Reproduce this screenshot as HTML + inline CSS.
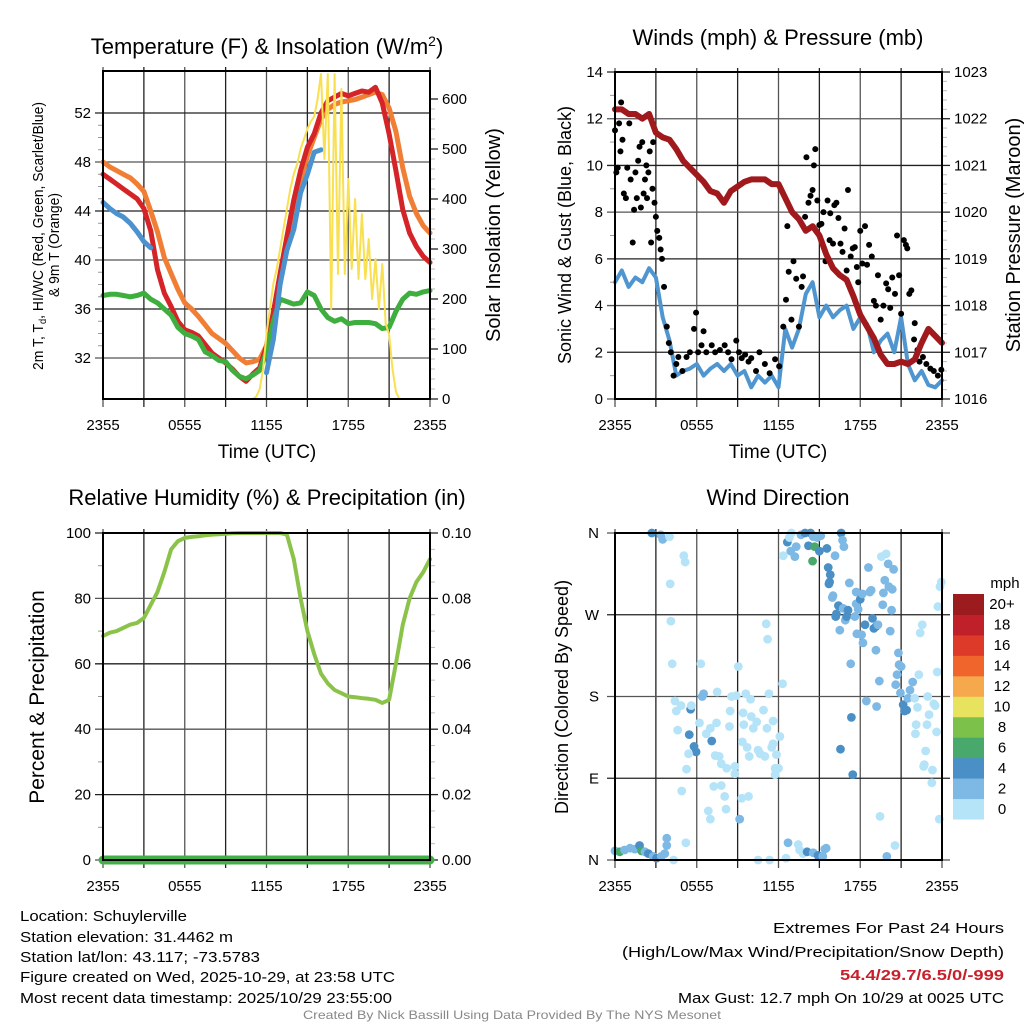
<!DOCTYPE html>
<html><head><meta charset="utf-8"><style>
html,body{margin:0;padding:0;background:#fff;}
svg{display:block;font-family:"Liberation Sans",sans-serif;}
</style></head><body>
<svg id="fig" width="1024" height="1024" viewBox="0 0 1024 1024" xmlns="http://www.w3.org/2000/svg">
<g id="layer"></g>
<g font-size="22" text-anchor="middle" fill="#000">
<text x="267" y="54">Temperature (F) &amp; Insolation (W/m<tspan dy="-8" font-size="14">2</tspan><tspan dy="8">)</tspan></text>
<text x="778" y="45">Winds (mph) &amp; Pressure (mb)</text>
<text x="267" y="505">Relative Humidity (%) &amp; Precipitation (in)</text>
<text x="778" y="505">Wind Direction</text>
</g>
<g fill="#000" text-anchor="middle">
<text x="267" y="458" font-size="19">Time (UTC)</text>
<text x="778" y="458" font-size="19">Time (UTC)</text>
<text font-size="15" transform="translate(43,236) rotate(-90)" textLength="268" lengthAdjust="spacingAndGlyphs">2m T, T<tspan font-size="10" dy="3">d</tspan><tspan dy="-3">, HI/WC (Red, Green, Scarlet/Blue)</tspan></text>
<text font-size="15" transform="translate(59,245) rotate(-90)" textLength="104" lengthAdjust="spacingAndGlyphs">&amp; 9m T (Orange)</text>
<text font-size="20" transform="translate(500,235) rotate(-90)">Solar Insolation (Yellow)</text>
<text font-size="18" transform="translate(571,235) rotate(-90)">Sonic Wind &amp; Gust (Blue, Black)</text>
<text font-size="20" transform="translate(1020,235) rotate(-90)">Station Pressure (Maroon)</text>
<text font-size="21" transform="translate(44,697) rotate(-90)">Percent &amp; Precipitation</text>
<text font-size="18" transform="translate(568,697) rotate(-90)">Direction (Colored By Speed)</text>
</g>
<g font-size="15" fill="#000">
<text x="20" y="921" textLength="167" lengthAdjust="spacingAndGlyphs">Location: Schuylerville</text>
<text x="20" y="942" textLength="213" lengthAdjust="spacingAndGlyphs">Station elevation: 31.4462 m</text>
<text x="20" y="962" textLength="240" lengthAdjust="spacingAndGlyphs">Station lat/lon: 43.117; -73.5783</text>
<text x="20" y="982" textLength="375" lengthAdjust="spacingAndGlyphs">Figure created on Wed, 2025-10-29, at 23:58 UTC</text>
<text x="20" y="1003" textLength="372" lengthAdjust="spacingAndGlyphs">Most recent data timestamp: 2025/10/29 23:55:00</text>
</g>
<g font-size="15" fill="#000">
<text x="773" y="933" textLength="231" lengthAdjust="spacingAndGlyphs">Extremes For Past 24 Hours</text>
<text x="622" y="957" textLength="382" lengthAdjust="spacingAndGlyphs">(High/Low/Max Wind/Precipitation/Snow Depth)</text>
<text x="840" y="980" font-weight="bold" fill="#c8202a" textLength="164" lengthAdjust="spacingAndGlyphs">54.4/29.7/6.5/0/-999</text>
<text x="678" y="1003" textLength="326" lengthAdjust="spacingAndGlyphs">Max Gust: 12.7 mph On 10/29 at 0025 UTC</text>
</g>
<text x="303" y="1019" font-size="12" fill="#888" textLength="418" lengthAdjust="spacingAndGlyphs">Created By Nick Bassill Using Data Provided By The NYS Mesonet</text>
</svg>
<script>
// ---- data (half-hour samples, hours 0..24 from 2355 UTC) ----
const hoursHalf = [0,0.5,1,1.5,2,2.5,3,3.5,4,4.5,5,5.5,6,6.5,7,7.5,8,8.5,9,9.5,10,10.5,11,11.5,12,12.5,13,13.5,14,14.5,15,15.5,16,16.5,17,17.5,18,18.5,19,19.5,20,20.5,21,21.5,22,22.5,23,23.5,24];
const temp2m = [47.0,46.6,46.2,45.8,45.4,45.0,44.2,42.4,39.2,37.3,36.2,35.0,34.3,34.1,33.8,33.1,32.4,32.0,31.6,31.1,30.5,30.1,30.7,31.2,33.0,35.7,38.9,41.9,44.9,47.3,49.2,50.3,52.0,53.0,53.3,53.6,53.4,53.6,53.8,53.7,54.1,52.8,50.3,47.3,44.1,42.2,41.1,40.3,39.8];
const temp9m = [48.0,47.6,47.3,47.0,46.7,46.2,45.6,44.0,42.3,40.2,38.9,37.6,36.5,36.0,35.4,34.7,34.0,33.6,33.2,32.6,32.0,31.6,31.7,31.9,33.0,35.5,38.5,41.5,44.3,46.5,48.5,50.0,51.5,52.3,52.7,52.9,53.0,53.1,53.3,53.5,53.7,53.5,52.4,50.5,47.5,45.2,43.8,42.8,42.2];
const dewpoint = [37.1,37.2,37.2,37.1,37.0,37.1,37.3,36.8,36.5,36.0,35.5,34.5,34.0,33.8,33.5,32.5,32.2,31.8,31.7,31.0,30.5,30.3,30.6,31.0,32.5,35.0,36.8,36.6,36.4,36.5,37.4,37.1,36.0,35.3,35.0,35.2,34.8,34.9,34.9,34.9,34.8,34.4,34.5,35.8,36.8,37.3,37.2,37.4,37.5];
const windChill = [44.7,44.2,43.8,43.5,43.0,42.3,41.5,41.0,null,null,null,null,null,null,null,null,null,null,null,null,null,null,null,null,30.8,33.5,38.0,40.8,42.5,45.5,47.0,48.8,49.0,null,null,null,null,null,null,null,null,null,null,null,null,null,null,null,null];
// insolation, quarter-hour samples
const insolation = [0,0,0,0,0,0,0,0,0,0,0,0,0,0,0,0,0,0,0,0,0,0,0,0,0,0,0,0,0,0,0,0,0,0,0,0,0,0,0,0,0,0,0,0,
 0,5,20,60,130,180,230,260,300,340,380,420,450,470,500,520,540,555,565,600,650,480,650,180,650,250,620,250,440,260,400,240,370,240,320,200,280,180,270,150,130,60,15,0,
 0,0,0,0,0,0,0,0,0];
const windSpeed = [5.0,5.5,4.8,5.2,5.0,5.6,5.2,3.5,2.5,1.0,1.2,1.3,1.5,1.0,1.3,1.5,1.2,1.5,1.0,1.2,0.5,1.0,0.7,1.0,0.5,3.0,2.2,3.0,4.5,5.0,3.5,4.0,3.5,3.8,4.0,3.0,3.5,3.2,2.0,2.5,2.8,2.0,3.5,1.5,0.8,1.2,0.6,0.5,0.8];
const pressure = [1022.2,1022.2,1022.1,1022.1,1022.0,1022.1,1021.7,1021.6,1021.55,1021.35,1021.1,1020.95,1020.8,1020.65,1020.45,1020.4,1020.2,1020.45,1020.55,1020.65,1020.7,1020.7,1020.7,1020.6,1020.6,1020.3,1020.0,1019.85,1019.6,1019.7,1019.5,1019.1,1018.8,1018.65,1018.55,1018.2,1017.8,1017.55,1017.3,1016.95,1016.75,1016.75,1016.8,1016.75,1016.85,1017.2,1017.5,1017.35,1017.2];
const humidity = [68.5,69.5,70,71,72,72.5,74,78,82,88,95,97.5,98.5,98.8,99,99.3,99.5,99.6,99.8,99.9,100,100,100,100,100,100,100,99.5,92,80,70,63,57,54,52,51,50,49.8,49.5,49.3,49,48,49,60,72,80,85,88,92];
const precip = [0,0,0,0,0,0,0,0,0,0,0,0,0,0,0,0,0,0,0,0,0,0,0,0,0,0,0,0,0,0,0,0,0,0,0,0,0,0,0,0,0,0,0,0,0,0,0,0,0];
const gustHours = [0.0,0.1,0.2,0.3,0.45,0.4,0.55,0.65,0.8,0.9,1.05,1.15,1.3,1.4,1.5,1.6,1.7,1.8,1.9,2.0,2.1,2.2,2.3,2.35,2.45,2.55,2.65,2.75,2.8,2.9,3.0,3.1,3.25,3.35,3.45,3.6,3.8,3.95,4.1,4.3,4.5,4.65,4.95,5.25,5.5,5.8,5.95,6.1,6.35,6.5,6.7,7.1,7.35,7.7,8.05,8.3,8.55,8.9,9.1,9.3,9.55,9.8,10.0,10.35,10.6,11.0,11.35,11.75,12.05,12.35,12.55,12.65,12.75,12.95,13.1,13.3,13.5,13.7,13.8,13.95,14.05,14.2,14.35,14.5,14.6,14.7,14.85,15.0,15.15,15.3,15.45,15.6,15.75,15.8,16.0,16.1,16.25,16.4,16.55,16.7,16.85,17.0,17.1,17.3,17.45,17.6,17.75,17.85,18.0,18.15,18.35,18.5,18.65,18.85,19.0,19.15,19.3,19.5,19.7,19.9,20.05,20.2,20.35,20.55,20.7,20.85,21.0,21.2,21.35,21.45,21.6,21.75,21.95,22.0,22.2,22.35,22.6,22.85,23.15,23.4,23.7,23.95];
const gustValues = [11.5,9.7,9.9,11.8,12.7,10.6,11.1,8.8,8.6,9.9,11.8,9.4,6.7,8.1,9.7,8.6,10.2,10.8,8.2,11.0,8.8,9.4,10.0,8.6,9.7,10.6,6.7,9.0,11.0,8.4,7.8,7.2,6.9,6.4,6.0,4.8,3.1,2.4,2.0,1.0,1.5,1.8,1.2,1.8,2.0,3.0,3.7,2.0,2.3,2.9,2.0,2.3,2.0,2.1,2.3,2.0,1.7,2.5,2.0,1.75,1.9,1.6,1.75,1.2,2.0,1.5,1.1,1.7,1.4,3.1,4.25,7.4,5.45,3.4,5.9,5.15,3.1,4.8,5.25,7.8,10.35,8.4,8.7,8.95,10.0,10.7,8.5,7.45,7.5,8.0,5.9,8.5,6.8,7.95,6.65,8.3,8.4,7.75,6.65,6.3,7.3,5.5,8.95,6.1,6.45,6.5,5.65,5.0,7.2,5.8,7.4,5.75,6.6,6.1,4.2,4.0,5.3,3.4,4.0,4.95,4.7,3.9,5.2,4.5,7.0,5.3,3.65,6.8,6.6,6.45,4.5,4.65,2.55,3.25,2.1,1.6,1.8,1.5,1.3,1.2,1.0,1.25];
const dirHours = [0,0.35,0.7,1.1,1.45,1.8,1.95,2.2,2.45,2.8,3.05,3.4,3.65,3.8,3.8,4.3,5.2,2.7,3.35,3.5,4.0,5.05,5.15,4.05,4.1,4.2,4.4,4.5,4.6,4.85,5.55,5.45,5.6,5.8,5.95,5.4,5.25,4.9,6.3,6.5,6.4,6.2,6.7,7.0,7.1,7.5,7.45,7.35,7.65,7.8,8.2,7.25,7.8,8.05,8.15,6.85,7.0,8.45,8.4,8.55,8.9,9.05,8.8,8.8,9.15,9.3,9.8,9.4,9.45,9.6,9.95,10.0,10.15,9.7,9.35,9.85,10.4,10.5,10.65,10.9,11.0,11.15,11.1,11.2,11.3,11.6,11.6,11.5,11.85,11.75,11.75,12.0,12.1,12.3,10.5,11.35,12.55,12.7,13.45,13.55,13.8,14.1,14.55,14.9,15.25,15.4,15.5,
 12.35,12.65,12.8,12.95,12.9,13.2,13.3,13.65,13.95,14.2,14.35,14.55,14.65,14.5,14.85,15.0,15.1,15.55,15.65,16.15,16.6,16.7,16.8,15.8,15.75,15.7,16.0,15.95,16.4,16.25,16.2,16.5,16.75,16.9,17.0,17.1,17.2,17.3,17.35,16.55,17.45,17.6,17.7,17.7,17.85,18.0,18.15,18.35,17.75,18.1,18.2,18.6,18.7,18.8,18.9,19.0,19.15,19.3,19.15,18.45,19.2,19.4,19.45,19.55,19.9,20.05,20.45,19.8,19.7,19.65,20.1,20.35,20.3,20.2,19.95,20.55,20.8,20.85,21.0,20.7,20.6,20.95,21.15,21.25,21.4,21.5,21.65,21.85,22.0,22.2,22.1,22.05,22.3,22.55,22.4,22.8,22.9,23.05,22.95,22.65,22.7,23.3,23.25,23.4,23.5,23.6,23.65,23.7,23.85,23.95,23.8];
const dirDegrees = [10,9,11,13,12,16,10,9,7,4,2,4,7,16,24,0,19,360,358,353,356,335,328,304,263,216,175,164,143,170,166,138,170,125,119,117,100,76,216,183,180,151,139,145,131,185,151,115,114,106,101,81,82,70,56,54,45,164,147,180,181,213,103,95,45,68,70,162,149,183,177,158,145,124,130,114,152,121,117,165,114,145,260,243,183,153,128,124,116,101,94,101,136,194,0,0,2,19,17,11,7,9,8,5,4,12,13,
 335,350,355,360,340,334,345,358,360,346,360,356,345,329,355,340,357,343,322,335,360,352,345,314,306,304,291,289,280,271,268,253,277,264,268,275,305,216,157,122,94,268,282,295,276,287,293,259,249,248,239,322,295,297,266,255,257,259,231,175,169,197,48,334,337,326,320,308,294,281,301,298,275,252,4,16,228,215,213,204,193,184,171,164,165,178,187,196,178,168,149,139,204,259,250,120,149,160,180,103,105,99,85,172,170,141,207,279,301,306,45];
const dirSpeeds = [3,7,3,3,3,5,7,3,5,3,5,3,3,3,3,1,1,5,3,3,1,1,1,1,1,1,1,1,1,1,5,5,1,5,5,1,1,1,1,3,3,1,1,1,5,1,1,1,1,1,1,1,1,1,1,1,1,1,1,1,1,1,1,1,3,1,1,1,1,1,1,1,1,1,1,1,1,1,1,1,1,1,1,1,1,1,1,1,1,1,1,1,1,1,1,1,1,3,1,1,1,5,3,5,3,3,3,
 1,5,1,1,3,3,3,3,5,5,5,3,7,7,3,5,3,5,5,3,5,3,3,5,5,5,3,3,5,5,5,3,3,3,5,5,3,3,5,5,5,3,3,3,3,5,3,5,3,3,3,3,3,3,5,5,5,3,3,3,3,3,1,1,1,3,3,3,3,3,3,3,3,3,3,1,3,3,3,3,3,3,5,5,5,3,3,3,1,1,1,1,1,1,1,1,1,1,1,1,1,1,1,1,1,1,1,1,1,1,1];
const speedBinLabels = ["0","2","4","6","8","10","12","14","16","18","20+"];
const speedBinColors = ["#b5e3f8","#7db9e4","#4a90c6","#49a86c","#7cc24a","#e8e35f","#f6a84c","#f0652c","#de3a2a","#c0202a","#9b1b1e"];
const xTickLabels = ["2355","0555","1155","1755","2355"];
const xTickHours = [0,6,12,18,24];
const tempTicks = [32,36,40,44,48,52];
const insolTicks = [0,100,200,300,400,500,600];
const windTicks = [0,2,4,6,8,10,12,14];
const pressTicks = [1016,1017,1018,1019,1020,1021,1022,1023];
const rhTicks = [0,20,40,60,80,100];
const precipTicks = ["0.00","0.02","0.04","0.06","0.08","0.10"];
const dirTicks = [0,90,180,270,360];
const dirTickLabels = ["N","E","S","W","N"];

const NS="http://www.w3.org/2000/svg";
const layer=document.getElementById('layer');
function mk(tag,attrs,parent){const e=document.createElementNS(NS,tag);for(const k in attrs)e.setAttribute(k,attrs[k]);(parent||layer).appendChild(e);return e;}
function lin(d0,d1,r0,r1){return v=>r0+(v-d0)*(r1-r0)/(d1-d0);}

function panel(name,x0,x1,y0,y1){
  const g=mk('g',{});
  
  
  const sx=lin(0,24,x0,x1);
  for(let h=0;h<=24;h+=3){
    const l=mk('line',{x1:sx(h),x2:sx(h),y1:y0-4,y2:y1+8,stroke:(h%6==0)?'#555':'#222','stroke-width':1.3},g);
    
    
  }
  xTickHours.forEach((h,i)=>{
    const t=mk('text',{x:sx(h),y:y1+31,'font-size':15,'text-anchor':'middle'},g);
    t.textContent=xTickLabels[i];
    
    
  });
  return {g,sx};
}
function yAxis(g,x0,x1,sy,ticks,labels,side,minor){
  ticks.forEach((v,i)=>{
    const y=sy(v);
    if(side==='left'){
      const l=mk('line',{x1:x0-8,x2:x1,y1:y,y2:y,stroke:(i%2)?'#222':'#555','stroke-width':1.3},g);
      
      
      const t=mk('text',{x:x0-12,y:y+5,'font-size':15,'text-anchor':'end'},g);
      t.textContent=labels?labels[i]:v;
      
      
    } else {
      const l=mk('line',{x1:x1,x2:x1+8,y1:y,y2:y,stroke:'#222','stroke-width':1.3},g);
      
      
      const t=mk('text',{x:x1+12,y:y+5,'font-size':15,'text-anchor':'start'},g);
      t.textContent=labels?labels[i]:v;
      
      
    }
  });
  if(minor){
    for(let k=0;k<ticks.length-1;k++){
      for(let m=1;m<minor;m++){
        const v=ticks[k]+(ticks[k+1]-ticks[k])*m/minor;const y=sy(v);
        if(side==='left') mk('line',{x1:x0-5,x2:x0,y1:y,y2:y,stroke:'#999','stroke-width':1},g);
        else mk('line',{x1:x1,x2:x1+5,y1:y,y2:y,stroke:'#bbb','stroke-width':1},g);
      }
    }
  }
}
function frame(g,x0,x1,y0,y1){
  const r=mk('rect',{x:x0,y:y0,width:x1-x0,height:y1-y0,fill:'none',stroke:'#000','stroke-width':2},g);
  
  
}
function pathFrom(xs,ys,sx,sy){
  let d='',pen=false;
  for(let i=0;i<xs.length;i++){
    if(ys[i]===null||ys[i]===undefined){pen=false;continue;}
    d+=(pen?'L':'M')+sx(xs[i]).toFixed(1)+','+sy(ys[i]).toFixed(1);pen=true;
  }
  return d;
}
function series(g,name,xs,ys,sx,sy,color,w){
  const p=mk('path',{d:pathFrom(xs,ys,sx,sy),fill:'none',stroke:color,'stroke-width':w,'stroke-linejoin':'round','stroke-linecap':'round'},g);
  
  
  return p;
}

(function(){
  const x0=103,x1=430,y0=71,y1=399;
  const {g,sx}=panel('temperature-panel',x0,x1,y0,y1);
  const sy=lin(32,52,358,113);
  const syR=lin(0,600,399,99);
  yAxis(g,x0,x1,sy,tempTicks,null,'left',4);
  yAxis(g,x0,x1,syR,insolTicks,null,'right',5);
  const qh=insolation.map((v,i)=>i*0.25);
  series(g,'temp-9m-line',hoursHalf,temp9m,sx,sy,'#f07f35',5);
  series(g,'temp-2m-line',hoursHalf,temp2m,sx,sy,'#d42428',5);
  series(g,'dewpoint-line',hoursHalf,dewpoint,sx,sy,'#3eae3e',5);
  series(g,'wind-chill-line',hoursHalf,windChill,sx,sy,'#4b92ce',5);
  series(g,'insolation-line',qh,insolation,sx,syR,'#f8e050',2);
  frame(g,x0,x1,y0,y1);
})();

(function(){
  const x0=615,x1=942,y0=72,y1=399;
  const {g,sx}=panel('wind-panel',x0,x1,y0,y1);
  const sy=lin(0,14,399,72);
  const syR=lin(1016,1023,399,72);
  yAxis(g,x0,x1,sy,windTicks,null,'left',2);
  yAxis(g,x0,x1,syR,pressTicks,null,'right',5);
  series(g,'sonic-wind-line',hoursHalf,windSpeed,sx,sy,'#4f95d0',4);
  gustHours.forEach((h,i)=>{
    const c=mk('circle',{cx:sx(h),cy:sy(gustValues[i]),r:3,fill:'#000'},g);
    
    
  });
  series(g,'pressure-line',hoursHalf,pressure,sx,syR,'#a0191c',6);
  frame(g,x0,x1,y0,y1);
})();

(function(){
  const x0=103,x1=430,y0=533,y1=860;
  const {g,sx}=panel('humidity-panel',x0,x1,y0,y1);
  const sy=lin(0,100,860,533);
  yAxis(g,x0,x1,sy,rhTicks,null,'left',2);
  yAxis(g,x0,x1,sy,rhTicks,precipTicks,'right',4);
  series(g,'humidity-line',hoursHalf,humidity,sx,sy,'#8bc34a',4);
  const syP=lin(0,0.1,860,533);
  series(g,'precipitation-line',hoursHalf,precip,sx,syP,'#43b047',9);
  frame(g,x0,x1,y0,y1);
})();

(function(){
  const x0=615,x1=942,y0=533,y1=860;
  const {g,sx}=panel('direction-panel',x0,x1,y0,y1);
  const sy=lin(0,360,860,533);
  dirTicks.forEach((v,i)=>{
    const y=sy(v);
    mk('line',{x1:x0-8,x2:x1+8,y1:y,y2:y,stroke:(i%2)?'#222':'#555','stroke-width':1.3},g);
    const t=mk('text',{x:x0-16,y:y+5,'font-size':15,'text-anchor':'end'},g);
    t.textContent=dirTickLabels[i];
    
    
  });
  dirHours.forEach((h,i)=>{
    const bin=Math.min(10,Math.floor(dirSpeeds[i]/2));
    const c=mk('circle',{cx:sx(h),cy:sy(dirDegrees[i]),r:4.4,fill:speedBinColors[bin]},g);
    
    
  });
  frame(g,x0,x1,y0,y1);
  const cb=mk('g',{},g);
  
  
  const top=594,h=225/11;
  const u=mk('text',{x:1005,y:588,'font-size':15,'text-anchor':'middle'},cb);
  u.textContent='mph';
  speedBinLabels.forEach((lab,i)=>{
    const y=top+(10-i)*h;
    const r=mk('rect',{x:953,y:y,width:31,height:h+0.5,fill:speedBinColors[i]},cb);
    
    
    const t=mk('text',{x:1002,y:y+h/2+5,'font-size':15,'text-anchor':'middle'},cb);
    t.textContent=lab;
    
    
  });
})();
</script>
</body></html>
